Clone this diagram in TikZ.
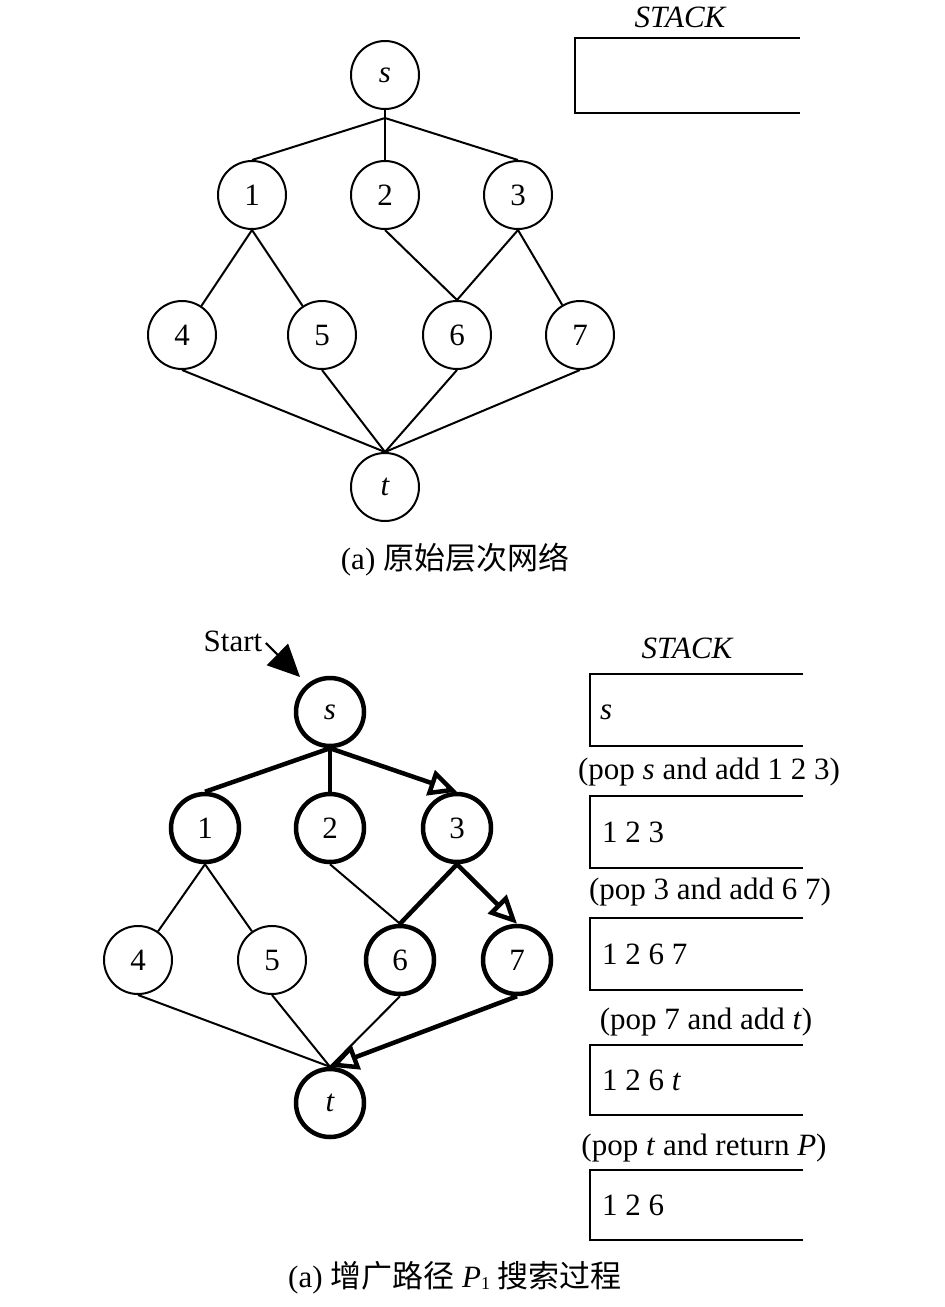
\documentclass[tikz,border=0pt]{standalone}
\usepackage{fontspec}
\setmainfont{Liberation Serif}
\newfontfamily\cjk{Noto Sans CJK SC}
\usetikzlibrary{arrows.meta}
\begin{document}
\begin{tikzpicture}[x=1pt,y=-1pt,
  every node/.style={font=\fontsize{31}{36}\selectfont},
  vtx/.style={circle,draw,line width=2pt,minimum size=68pt,inner sep=0pt},
  vtxb/.style={vtx,line width=4.5pt},
  ln/.style={line width=2pt},
  lnb/.style={line width=4.5pt},
  arr/.style={lnb,-{Triangle[open,length=28pt,width=26pt]}},
  stk/.style={line width=2.5pt},
  stxt/.style={anchor=west,inner sep=0pt}
]
\useasboundingbox (0,0) rectangle (945,1307);

% ---------- top diagram ----------
\node[vtx] (s) at (385,75) {\itshape s};
\node[vtx] (n1) at (252,195) {1};
\node[vtx] (n2) at (385,195) {2};
\node[vtx] (n3) at (518,195) {3};
\node[vtx] (n4) at (182,335) {4};
\node[vtx] (n5) at (322,335) {5};
\node[vtx] (n6) at (457,335) {6};
\node[vtx] (n7) at (580,335) {7};
\node[vtx] (t) at (385,487) {\itshape t};
\coordinate (js) at (385,118);
\draw[ln] (s) -- (js);
\draw[ln] (js) -- (n1.north);
\draw[ln] (js) -- (n2.north);
\draw[ln] (js) -- (n3.north);
\draw[ln] (n1.south) -- (n4);
\draw[ln] (n1.south) -- (n5);
\draw[ln] (n2.south) -- (n6.north);
\draw[ln] (n3.south) -- (n6.north);
\draw[ln] (n3.south) -- (n7);
\draw[ln] (n4.south) -- (t.north);
\draw[ln] (n5.south) -- (t.north);
\draw[ln] (n6.south) -- (t.north);
\draw[ln] (n7.south) -- (t.north);

\node (stackA) at (680,17) {\itshape STACK};
\draw[stk] (800,38) -- (575,38) -- (575,113) -- (800,113);

\node (capA) at (455,560) {(a) {\cjk 原始层次网络}};

% ---------- bottom diagram ----------
\node[vtxb] (bs) at (330,712) {\itshape s};
\node[vtxb] (b1) at (205,828) {1};
\node[vtxb] (b2) at (330,828) {2};
\node[vtxb] (b3) at (457,828) {3};
\node[vtx]  (b4) at (138,960) {4};
\node[vtx]  (b5) at (272,960) {5};
\node[vtxb] (b6) at (400,960) {6};
\node[vtxb] (b7) at (517,960) {7};
\node[vtxb] (bt) at (330,1103) {\itshape t};

\node (start) at (233,641) {Start};
\coordinate (stip) at (300,677);
\draw[ln,-{Triangle[length=32pt,width=30pt]}] (start.south east) ++(0,-12) -- (stip);

\draw[lnb] (bs.south) -- (b1.north);
\draw[lnb] (bs.south) -- (b2.north);
\draw[arr] (bs.south) -- (b3.north);
\draw[ln] (b1.south) -- (b4);
\draw[ln] (b1.south) -- (b5);
\draw[ln] (b2.south) -- (b6.north);
\draw[lnb] (b3.south) -- (b6.north);
\draw[arr] (b3.south) -- (b7.north);
\draw[ln] (b4.south) -- (bt.north);
\draw[ln] (b5.south) -- (bt.north);
\draw[ln] (b6.south) -- (bt.north);
\draw[arr] (b7.south) -- (bt.north);

\node (stackB) at (687,648) {\itshape STACK};
\draw[stk] (803,674) -- (590,674) -- (590,746) -- (803,746);
\node[stxt] (k1) at (600,712) {\itshape s};
\node (p1) at (709,772) {(pop \textit{s} and add 1 2 3)};
\draw[stk] (803,796) -- (590,796) -- (590,868) -- (803,868);
\node[stxt] (k2) at (602,832) {1 2 3};
\node (p2) at (710,892) {(pop 3 and add 6 7)};
\draw[stk] (803,918) -- (590,918) -- (590,990) -- (803,990);
\node[stxt] (k3) at (602,954) {1 2 6 7};
\node (p3) at (706,1022) {(pop 7 and add \textit{t})};
\draw[stk] (803,1045) -- (590,1045) -- (590,1115) -- (803,1115);
\node[stxt] (k4) at (602,1080) {1 2 6 \textit{t}};
\node (p4) at (704,1148) {(pop \textit{t} and return \textit{P})};
\draw[stk] (803,1170) -- (590,1170) -- (590,1240) -- (803,1240);
\node[stxt] (k5) at (602,1205) {1 2 6};

\node (capB) at (455,1278) {(a) {\cjk 增广路径} \textit{P}{\fontsize{18}{20}\selectfont\raisebox{-0.25ex}{1}} {\cjk 搜索过程}};
\end{tikzpicture}
\end{document}
